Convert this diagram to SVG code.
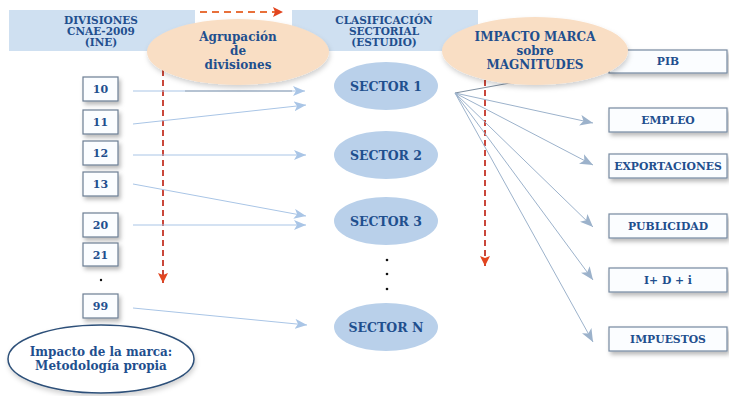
<svg xmlns="http://www.w3.org/2000/svg" width="729" height="396" viewBox="0 0 729 396">
  <defs>
    <filter id="shadow" x="-20%" y="-30%" width="150%" height="170%">
      <feDropShadow dx="2" dy="3" stdDeviation="2" flood-color="#000" flood-opacity="0.28"/>
    </filter>
    <filter id="soft" x="-20%" y="-30%" width="150%" height="170%">
      <feDropShadow dx="1" dy="3" stdDeviation="2.5" flood-color="#000" flood-opacity="0.18"/>
    </filter>
    <marker id="blue" viewBox="0 0 12 10" refX="12" refY="5" markerWidth="12" markerHeight="10" markerUnits="userSpaceOnUse" orient="auto">
      <path d="M0,0 L12,5 L0,10 L3,5 Z" fill="#a9c5e6"/>
    </marker>
    <marker id="grey" viewBox="0 0 12 10" refX="12" refY="5" markerWidth="13" markerHeight="11" markerUnits="userSpaceOnUse" orient="auto">
      <path d="M0,0 L12,5 L0,10 L3,5 Z" fill="#9cb2cb"/>
    </marker>
    <marker id="red" viewBox="0 0 10 10" refX="10" refY="5" markerWidth="10" markerHeight="10" markerUnits="userSpaceOnUse" orient="auto">
      <path d="M0,0 L10,5 L0,10 L2,5 Z" fill="#e2451f"/>
    </marker>
  </defs>
  <style>
    text { font-family: "DejaVu Serif", "Liberation Serif", serif; font-weight: bold; fill: #1f4f8e; text-anchor: middle; }
    .hdr { fill: #cfe0f1; }
    .hdrtxt { font-size: 10.5px; }
    .num { fill: #fbfdff; stroke: #6c7e93; stroke-width: 1.2; filter: url(#shadow); }
    .numtxt { font-size: 11px; }
    .mag { fill: #fbfdff; stroke: #7689a0; stroke-width: 1.2; filter: url(#shadow); }
    .magtxt { font-size: 10.8px; }
    .sector { fill: #b9d0ea; }
    .sectxt { font-size: 12.5px; }
    .peach { fill: #f9dec4; filter: url(#soft); }
    .big { font-size: 12px; }
    .in { stroke: #a9c5e6; stroke-width: 1; fill: none; marker-end: url(#blue); }
    .out { stroke: #9cb2cb; stroke-width: 1; fill: none; marker-end: url(#grey); }
    .dash { stroke: #c9473b; stroke-width: 2; stroke-dasharray: 6 4; fill: none; marker-end: url(#red); }
    .dot { fill: #111; }
  </style>

  <!-- column headers -->
  <g id="hdr-divisiones">
    <rect class="hdr" x="9" y="10" width="186" height="41"/>
    <text class="hdrtxt" x="101" y="24">DIVISIONES</text>
    <text class="hdrtxt" x="101" y="35">CNAE-2009</text>
    <text class="hdrtxt" x="101" y="46">(INE)</text>
  </g>
  <g id="hdr-clasificacion">
    <rect class="hdr" x="292" y="10" width="186" height="41"/>
    <text class="hdrtxt" x="384" y="24">CLASIFICACIÓN</text>
    <text class="hdrtxt" x="384" y="35">SECTORIAL</text>
    <text class="hdrtxt" x="384" y="46">(ESTUDIO)</text>
  </g>

  <!-- connectors -->
  <g id="connectors">
    <path d="M200,12 H283" stroke="#e8703a" stroke-width="2" stroke-dasharray="7 5" fill="none" marker-end="url(#red)"/>
    <path class="dash" d="M163,70 V283"/>
    <path class="dash" d="M485,70 V266"/>
    <path class="in" d="M133,91 H305"/>
    <path d="M185,91 H292" stroke="#7f8b98" stroke-width="1" opacity="0.7"/>
    <path class="in" d="M133,124 L306,105"/>
    <path class="in" d="M133,155 H306"/>
    <path class="in" d="M133,184 L306,216"/>
    <path class="in" d="M133,225 H306"/>
    <path class="in" d="M133,308 L307,325"/>
    <path d="M455,93 L609,65" stroke="#7f8fa0" stroke-width="1.2" fill="none"/>
    <path class="out" d="M455,93 L593,123"/>
    <path class="out" d="M455,93 L593,165"/>
    <path class="out" d="M455,93 L593,227"/>
    <path class="out" d="M455,93 L593,280"/>
    <path class="out" d="M455,93 L593,342"/>
  </g>

  <!-- grouping ellipses -->
  <g id="agrupacion">
    <ellipse class="peach" cx="238" cy="52" rx="91" ry="33"/>
    <text class="big" x="238" y="41">Agrupación</text>
    <text class="big" x="238" y="55">de</text>
    <text class="big" x="238" y="69">divisiones</text>
  </g>

  <!-- magnitude boxes -->
  <g id="pib">
    <rect class="mag" x="609" y="50" width="118" height="23"/>
    <text class="magtxt" x="668" y="65">PIB</text>
  </g>

  <g id="impacto-marca">
    <ellipse class="peach" cx="535" cy="51" rx="93" ry="34"/>
    <text class="big" x="535" y="41">IMPACTO MARCA</text>
    <text class="big" x="535" y="55">sobre</text>
    <text class="big" x="535" y="69">MAGNITUDES</text>
  </g>

  <g id="empleo">
    <rect class="mag" x="609" y="108" width="118" height="24"/>
    <text class="magtxt" x="668" y="124">EMPLEO</text>
  </g>
  <g id="exportaciones">
    <rect class="mag" x="609" y="154" width="118" height="24"/>
    <text class="magtxt" x="668" y="170">EXPORTACIONES</text>
  </g>
  <g id="publicidad">
    <rect class="mag" x="609" y="214" width="118" height="24"/>
    <text class="magtxt" x="668" y="230">PUBLICIDAD</text>
  </g>
  <g id="idi">
    <rect class="mag" x="609" y="268" width="118" height="24"/>
    <text class="magtxt" x="668" y="284">I+ D + i</text>
  </g>
  <g id="impuestos">
    <rect class="mag" x="609" y="327" width="118" height="24"/>
    <text class="magtxt" x="668" y="343">IMPUESTOS</text>
  </g>

  <!-- CNAE divisions -->
  <g id="div-10">
    <rect class="num" x="83" y="77" width="35" height="24"/>
    <text class="numtxt" x="100.5" y="93">10</text>
  </g>
  <g id="div-11">
    <rect class="num" x="83" y="110" width="35" height="24"/>
    <text class="numtxt" x="100.5" y="126">11</text>
  </g>
  <g id="div-12">
    <rect class="num" x="83" y="141" width="35" height="24"/>
    <text class="numtxt" x="100.5" y="157">12</text>
  </g>
  <g id="div-13">
    <rect class="num" x="83" y="172" width="35" height="24"/>
    <text class="numtxt" x="100.5" y="188">13</text>
  </g>
  <g id="div-20">
    <rect class="num" x="83" y="213" width="35" height="24"/>
    <text class="numtxt" x="100.5" y="229">20</text>
  </g>
  <g id="div-21">
    <rect class="num" x="83" y="243" width="35" height="23"/>
    <text class="numtxt" x="100.5" y="259">21</text>
  </g>
  <circle class="dot" cx="101" cy="280" r="1.2"/>
  <g id="div-99">
    <rect class="num" x="83" y="294" width="35" height="24"/>
    <text class="numtxt" x="100.5" y="310">99</text>
  </g>

  <!-- study sectors -->
  <g id="sector-1">
    <ellipse class="sector" cx="386" cy="86" rx="52" ry="24"/>
    <text class="sectxt" x="386" y="91">SECTOR 1</text>
  </g>
  <g id="sector-2">
    <ellipse class="sector" cx="386" cy="155" rx="52" ry="24"/>
    <text class="sectxt" x="386" y="160">SECTOR 2</text>
  </g>
  <g id="sector-3">
    <ellipse class="sector" cx="386" cy="221" rx="52" ry="24"/>
    <text class="sectxt" x="386" y="226">SECTOR 3</text>
  </g>
  <circle class="dot" cx="387" cy="260" r="1.3"/>
  <circle class="dot" cx="387" cy="274" r="1.3"/>
  <circle class="dot" cx="387" cy="289" r="1.3"/>
  <g id="sector-n">
    <ellipse class="sector" cx="386" cy="327" rx="52" ry="24"/>
    <text class="sectxt" x="386" y="332">SECTOR N</text>
  </g>

  <!-- methodology note -->
  <g id="metodologia">
    <ellipse cx="101" cy="359" rx="93" ry="34" fill="#fff" stroke="#2d5079" stroke-width="1.5" filter="url(#soft)"/>
    <text class="big" x="101" y="356">Impacto de la marca:</text>
    <text class="big" x="101" y="370">Metodología propia</text>
  </g>
</svg>
